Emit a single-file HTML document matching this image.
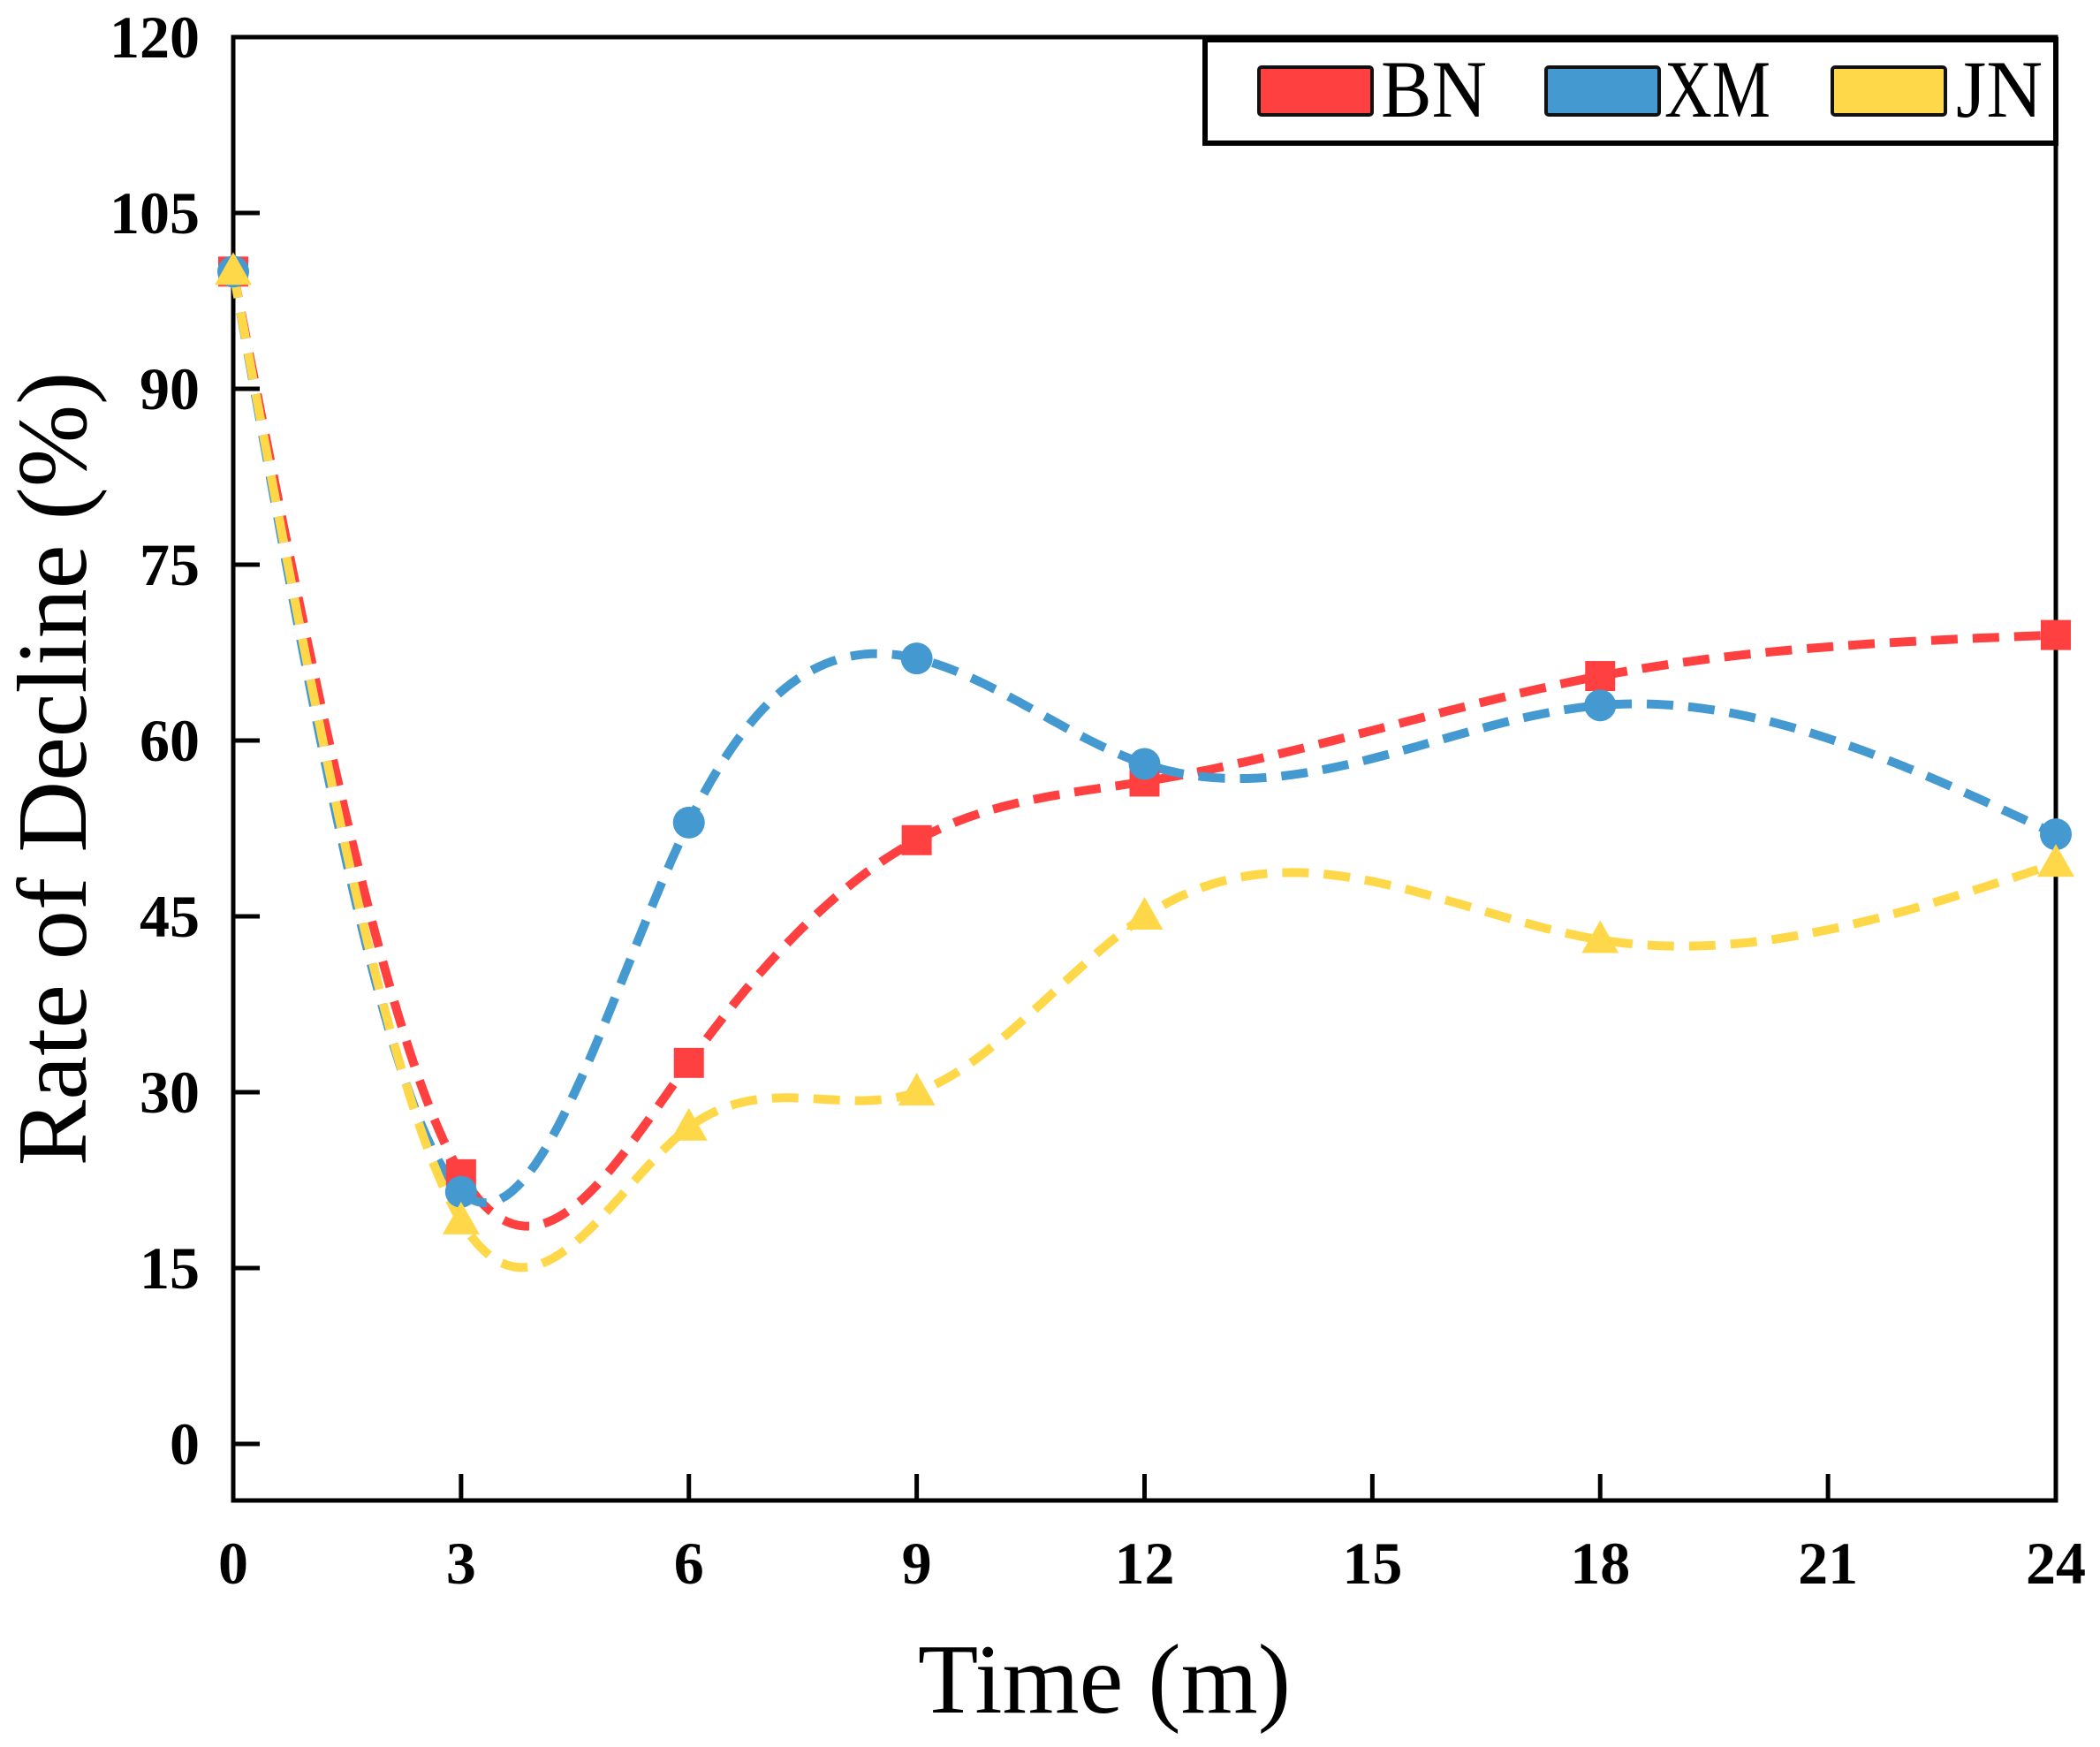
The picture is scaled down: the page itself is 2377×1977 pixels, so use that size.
<!DOCTYPE html>
<html><head><meta charset="utf-8"><style>
html,body{margin:0;padding:0;background:#fff;}
svg{display:block;font-family:"Liberation Serif",serif;}
</style></head><body>
<svg id="chart" width="2377" height="1977" viewBox="0 0 2377 1977">
<g id="plot"></g>
</svg>
<script>
const categories = [0, 3, 6, 9, 12, 18, 24];
const bnValues = [100, 23, 32.5, 51.5, 56.5, 65.5, 69];
const xmValues = [100, 21.5, 53, 67, 58, 63, 52];
const jnValues = [100, 19, 27, 30, 45, 43, 49.5];
const xTicks = [0, 3, 6, 9, 12, 15, 18, 21, 24];
const yTicks = [0, 15, 30, 45, 60, 75, 90, 105, 120];

const L = 264, R = 2327, T = 42, B = 1698;
const xScale = v => L + (v - 0) / 24 * (R - L);
const yScale = v => 1634 - v / 120 * (1634 - T);
const NS = 'http://www.w3.org/2000/svg';
const g = document.getElementById('plot');
function mk(tag, attrs, parent) {
  const e = document.createElementNS(NS, tag);
  for (const k in attrs) e.setAttribute(k, attrs[k]);
  (parent || g).appendChild(e);
  return e;
}

function spline(xs, ys) {
  const n = xs.length, h = [], a = [], l = [1], mu = [0], z = [0], c = new Array(n).fill(0), b = [], d = [];
  for (let i = 0; i < n - 1; i++) h[i] = xs[i + 1] - xs[i];
  for (let i = 1; i < n - 1; i++) a[i] = 3 / h[i] * (ys[i + 1] - ys[i]) - 3 / h[i - 1] * (ys[i] - ys[i - 1]);
  for (let i = 1; i < n - 1; i++) {
    l[i] = 2 * (xs[i + 1] - xs[i - 1]) - h[i - 1] * mu[i - 1];
    mu[i] = h[i] / l[i];
    z[i] = (a[i] - h[i - 1] * z[i - 1]) / l[i];
  }
  for (let j = n - 2; j >= 0; j--) {
    c[j] = z[j] - mu[j] * c[j + 1];
    b[j] = (ys[j + 1] - ys[j]) / h[j] - h[j] * (c[j + 1] + 2 * c[j]) / 3;
    d[j] = (c[j + 1] - c[j]) / (3 * h[j]);
  }
  const pts = [];
  for (let j = 0; j < n - 1; j++) {
    for (let s = 0; s < 40; s++) {
      const t = h[j] * s / 40;
      pts.push([xs[j] + t, ys[j] + b[j] * t + c[j] * t * t + d[j] * t * t * t]);
    }
  }
  pts.push([xs[n - 1], ys[n - 1]]);
  return pts;
}

const frame = mk('rect', {x: L, y: T, width: R - L, height: B - T, fill: 'none', stroke: '#000', 'stroke-width': 5});



xTicks.forEach(v => {
  const x = xScale(v);
  const t = mk('line', {x1: x, x2: x, y1: B, y2: B - 30, stroke: '#000', 'stroke-width': 5});
  
  
  const lb = mk('text', {x: x, y: B + 94, 'text-anchor': 'middle', 'font-size': 68, 'font-weight': 'bold'});
  lb.textContent = v;
  
  
});
yTicks.forEach(v => {
  const y = yScale(v);
  const t = mk('line', {x1: L, x2: L + 30, y1: y, y2: y, stroke: '#000', 'stroke-width': 5});
  
  
  const lb = mk('text', {x: L - 38, y: y + 23, 'text-anchor': 'end', 'font-size': 68, 'font-weight': 'bold'});
  lb.textContent = v;
  
  
});

const xt = mk('text', {x: 1250, y: 1938, 'text-anchor': 'middle', 'font-size': 112});
xt.textContent = 'Time (m)';


const yt = mk('text', {x: 0, y: 0, 'text-anchor': 'middle', 'font-size': 112, transform: 'translate(97,870) rotate(-90)'});
yt.textContent = 'Rate of Decline (%)';



const series = [
  {name: 'bn', vals: bnValues, color: '#ff4040', marker: 'square'},
  {name: 'xm', vals: xmValues, color: '#4499d0', marker: 'circle'},
  {name: 'jn', vals: jnValues, color: '#ffd84a', marker: 'triangle'}
];
series.forEach(s => {
  const pts = spline(categories, s.vals);
  const d = pts.map((p, i) => (i ? 'L' : 'M') + xScale(p[0]).toFixed(1) + ' ' + yScale(p[1]).toFixed(1)).join(' ');
  const path = mk('path', {d: d, fill: 'none', stroke: s.color, 'stroke-width': 10, 'stroke-dasharray': '30 17'});
  
  
});
series.forEach(s => {
  categories.forEach((c, i) => {
    const x = xScale(c), y = yScale(s.vals[i]);
    let m;
    if (s.marker === 'square') m = mk('rect', {x: x - 17, y: y - 17, width: 34, height: 34, fill: s.color});
    else if (s.marker === 'circle') m = mk('circle', {cx: x, cy: y, r: 18, fill: s.color});
    else m = mk('polygon', {points: `${x},${y - 22} ${x + 21},${y + 15} ${x - 21},${y + 15}`, fill: s.color});
    
    
  });
});

const lg = mk('g', {});


mk('rect', {x: 1364, y: 45, width: R - 1364, height: 117, fill: '#fff', stroke: '#000', 'stroke-width': 6}, lg);
const legNames = ['BN', 'XM', 'JN'];
const legSw = [1425, 1750, 2074];
const legTx = [1563, 1884, 2214];
series.forEach((s, i) => {
  const sw = mk('rect', {x: legSw[i], y: 76, width: 128, height: 54, rx: 3, fill: s.color, stroke: '#111', 'stroke-width': 4}, lg);
  
  
  const tx = mk('text', {x: legTx[i], y: 132, 'font-size': 92, textLength: legNames[i] === 'JN' ? 98 : 120, lengthAdjust: 'spacingAndGlyphs'}, lg);
  tx.textContent = legNames[i];
  
  
});
</script>
</body></html>
